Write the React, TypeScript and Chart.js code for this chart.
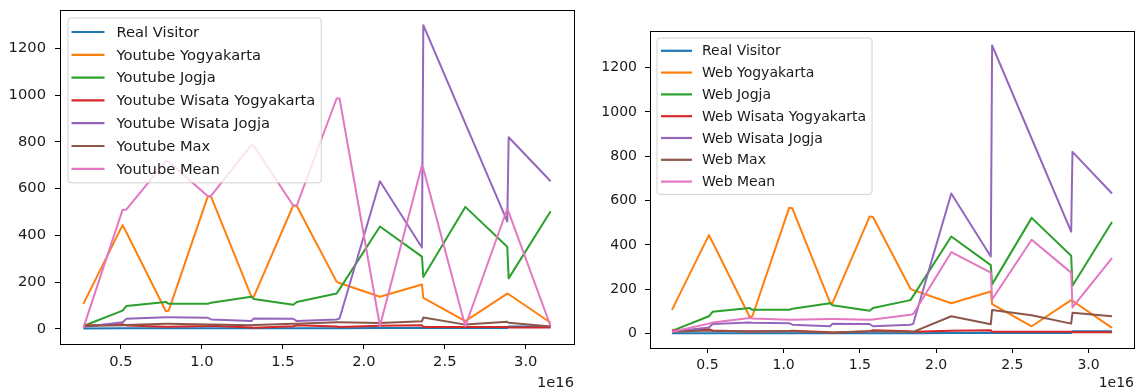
import React, { useEffect, useRef } from "react";
import { Chart, registerables } from "chart.js";

Chart.register(...registerables);

// x values in units of 1e16 (offset label drawn as "1e16")
const X_VALUES = [0.2678, 0.5098, 0.534, 0.7776, 0.795, 1.0368, 1.057, 1.3046, 1.32, 1.5638, 1.586, 1.8317, 1.85, 2.0995, 2.3587, 2.3673, 2.6266, 2.8858, 2.8944, 3.1536];
const X_TICKS = [0.5, 1.0, 1.5, 2.0, 2.5, 3.0];
const Y_TICKS = [0, 200, 400, 600, 800, 1000, 1200];

const REAL_VISITOR = [1, 2, 2, 2, 2, 2, 2, 2, 2, 2, 2, 2, 2, 3, 4, 3, 3, 3, 10, 10];
const YOGYAKARTA = [107, 444, 412, 75, 78, 568, 565, 140, 137, 528, 526, 202, 196, 137, 190, 133, 33, 151, 148, 26];
const JOGJA = [12, 78, 98, 115, 107, 107, 112, 137, 128, 103, 115, 151, 170, 438, 309, 222, 522, 351, 216, 503];
const WISATA_YOGYAKARTA = [14, 20, 14, 9, 9, 12, 13, 6, 5, 11, 15, 10, 8, 13, 15, 8, 8, 8, 6, 6];
const WISATA_JOGJA = [8, 28, 43, 50, 49, 47, 40, 33, 44, 43, 33, 40, 44, 632, 348, 1300, 880, 460, 820, 632];
const YOUTUBE_MAX = [12, 15, 16, 22, 22, 18, 18, 15, 16, 22, 22, 28, 28, 25, 32, 48, 18, 30, 26, 10];
const YOUTUBE_MEAN = [4, 509, 511, 718, 715, 568, 570, 786, 784, 528, 528, 986, 986, 12, 700, 686, 11, 514, 500, 11];
const WEB_MAX = [8, 14, 12, 10, 10, 10, 10, 4, 4, 10, 10, 8, 8, 78, 42, 106, 83, 45, 94, 78];
const WEB_MEAN = [8, 45, 50, 70, 68, 62, 62, 66, 66, 62, 64, 85, 88, 367, 275, 154, 423, 275, 118, 340];

const YOUTUBE_LABELS = ["Real Visitor", "Youtube Yogyakarta", "Youtube Jogja", "Youtube Wisata Yogyakarta", "Youtube Wisata Jogja", "Youtube Max", "Youtube Mean"];
const WEB_LABELS = ["Real Visitor", "Web Yogyakarta", "Web Jogja", "Web Wisata Yogyakarta", "Web Wisata Jogja", "Web Max", "Web Mean"];
const COLORS = ["#1f77b4", "#ff7f0e", "#2ca02c", "#d62728", "#9467bd", "#8c564b", "#e377c2"];

const X_MIN = 0.1235;
const X_MAX = 3.2979;
const Y_MIN = -65;
const Y_MAX = 1365;

type Geom = {
  width: number;
  yAxisWidth: number;
  xAxisHeight: number;
  padTop: number;
  padRight: number;
  font: number;
  yPad: number;
  xPad: number;
  legendDx: number;
  legendDy: number;
  lineStart: number;
  lineEnd: number;
  textOffset: number;
  rightPad: number;
  firstRow: number;
  rowGap: number;
  offsetY: number;
};

const FONT_FAMILY = '"DejaVu Sans", sans-serif';
const TEXT_COLOR = "#1a1a1a";

function makeConfig(labels: string[], series: number[][], g: Geom): any {
  const datasets = series.map((vals, i) => ({
    label: labels[i],
    data: vals.map((v, j) => ({ x: X_VALUES[j], y: v })),
    borderColor: COLORS[i],
    backgroundColor: COLORS[i],
    borderWidth: 2,
    pointRadius: 0,
    tension: 0,
    fill: false,
    borderJoinStyle: "round",
    order: series.length - 1 - i,
  }));

  const overlay = {
    id: "mplOverlay",
    afterDraw(chart: any) {
      const ctx = chart.ctx;
      const ca = chart.chartArea;
      ctx.save();
      // frame
      ctx.strokeStyle = "#000";
      ctx.lineWidth = 1;
      ctx.strokeRect(Math.round(ca.left) + 0.5, Math.round(ca.top) + 0.5, Math.round(ca.right - ca.left), Math.round(ca.bottom - ca.top));
      // legend
      ctx.font = `${g.font}px ${FONT_FAMILY}`;
      const maxW = Math.max(...labels.map((l) => ctx.measureText(l).width));
      const x0 = ca.left + g.legendDx;
      const y0 = ca.top + g.legendDy;
      const w = g.textOffset + maxW + g.rightPad;
      const h = g.firstRow * 2 + g.rowGap * (labels.length - 1);
      const r = 3;
      ctx.beginPath();
      ctx.moveTo(x0 + r, y0);
      ctx.lineTo(x0 + w - r, y0);
      ctx.quadraticCurveTo(x0 + w, y0, x0 + w, y0 + r);
      ctx.lineTo(x0 + w, y0 + h - r);
      ctx.quadraticCurveTo(x0 + w, y0 + h, x0 + w - r, y0 + h);
      ctx.lineTo(x0 + r, y0 + h);
      ctx.quadraticCurveTo(x0, y0 + h, x0, y0 + h - r);
      ctx.lineTo(x0, y0 + r);
      ctx.quadraticCurveTo(x0, y0, x0 + r, y0);
      ctx.closePath();
      ctx.fillStyle = "rgba(255,255,255,0.8)";
      ctx.fill();
      ctx.strokeStyle = "rgba(204,204,204,0.9)";
      ctx.lineWidth = 1;
      ctx.stroke();
      ctx.textBaseline = "middle";
      ctx.textAlign = "left";
      labels.forEach((lab, i) => {
        const cy = y0 + g.firstRow + i * g.rowGap;
        ctx.beginPath();
        ctx.strokeStyle = COLORS[i];
        ctx.lineWidth = 2.2;
        ctx.lineCap = "butt";
        ctx.moveTo(x0 + g.lineStart, cy);
        ctx.lineTo(x0 + g.lineEnd, cy);
        ctx.stroke();
        ctx.fillStyle = TEXT_COLOR;
        ctx.fillText(lab, x0 + g.textOffset, cy + 1);
      });
      // offset text
      ctx.textAlign = "right";
      ctx.fillStyle = TEXT_COLOR;
      ctx.fillText("1e16", ca.right, g.offsetY);
      ctx.restore();
    },
  };

  return {
    type: "line",
    data: { datasets },
    plugins: [overlay],
    options: {
      animation: false,
      responsive: false,
      devicePixelRatio: 1,
      events: [],
      layout: { padding: { left: 0, top: g.padTop, right: g.padRight, bottom: 0 } },
      plugins: { legend: { display: false }, tooltip: { enabled: false }, title: { display: false } },
      scales: {
        x: {
          type: "linear",
          min: X_MIN,
          max: X_MAX,
          afterBuildTicks: (scale: any) => {
            scale.ticks = X_TICKS.map((v) => ({ value: v }));
          },
          afterFit: (scale: any) => {
            scale.height = g.xAxisHeight;
            scale.paddingLeft = 0;
            scale.paddingRight = 0;
          },
          grid: { display: true, drawOnChartArea: false, drawTicks: true, tickLength: 5, tickWidth: 1, tickColor: "#000", color: "#000" },
          border: { display: false },
          ticks: {
            autoSkip: false,
            maxRotation: 0,
            padding: g.xPad,
            color: TEXT_COLOR,
            font: { family: FONT_FAMILY, size: g.font },
            callback: (v: any) => Number(v).toFixed(1),
          },
        },
        y: {
          type: "linear",
          min: Y_MIN,
          max: Y_MAX,
          afterBuildTicks: (scale: any) => {
            scale.ticks = Y_TICKS.map((v) => ({ value: v }));
          },
          afterFit: (scale: any) => {
            scale.width = g.yAxisWidth;
            scale.paddingTop = 0;
            scale.paddingBottom = 0;
          },
          grid: { display: true, drawOnChartArea: false, drawTicks: true, tickLength: 5, tickWidth: 1, tickColor: "#000", color: "#000" },
          border: { display: false },
          ticks: {
            autoSkip: false,
            padding: g.yPad,
            color: TEXT_COLOR,
            font: { family: FONT_FAMILY, size: g.font },
            callback: (v: any) => String(v),
          },
        },
      },
    },
  };
}

const LEFT_GEOM: Geom = {
  width: 580,
  yAxisWidth: 60,
  xAxisHeight: 48,
  padTop: 10,
  padRight: 6,
  font: 14.7,
  yPad: 9,
  xPad: 4,
  legendDx: 8,
  legendDy: 8,
  lineStart: 3.5,
  lineEnd: 36.5,
  textOffset: 48.5,
  rightPad: 6,
  firstRow: 14,
  rowGap: 22.8,
  offsetY: 383,
};

const RIGHT_GEOM: Geom = {
  width: 557,
  yAxisWidth: 70,
  xAxisHeight: 44,
  padTop: 31,
  padRight: 3,
  font: 14,
  yPad: 8,
  xPad: 4,
  legendDx: 7,
  legendDy: 7,
  lineStart: 4,
  lineEnd: 35,
  textOffset: 45,
  rightPad: 6,
  firstRow: 12.8,
  rowGap: 21.8,
  offsetY: 383,
};

function Panel({ labels, series, geom, left }: { labels: string[]; series: number[][]; geom: Geom; left: number }) {
  const ref = useRef<HTMLCanvasElement | null>(null);
  useEffect(() => {
    if (!ref.current) return;
    const chart = new Chart(ref.current, makeConfig(labels, series, geom));
    return () => chart.destroy();
  }, []);
  return (
    <canvas
      ref={ref}
      width={geom.width}
      height={392}
      style={{ position: "absolute", left, top: 0, width: geom.width, height: 392 }}
    />
  );
}

export default function App() {
  const youtube = [REAL_VISITOR, YOGYAKARTA, JOGJA, WISATA_YOGYAKARTA, WISATA_JOGJA, YOUTUBE_MAX, YOUTUBE_MEAN];
  const web = [REAL_VISITOR, YOGYAKARTA, JOGJA, WISATA_YOGYAKARTA, WISATA_JOGJA, WEB_MAX, WEB_MEAN];
  return (
    <div style={{ position: "absolute", left: 0, top: 0, width: 1137, height: 392, background: "#fff", overflow: "hidden" }}>
      <Panel labels={YOUTUBE_LABELS} series={youtube} geom={LEFT_GEOM} left={0} />
      <Panel labels={WEB_LABELS} series={web} geom={RIGHT_GEOM} left={580} />
    </div>
  );
}
